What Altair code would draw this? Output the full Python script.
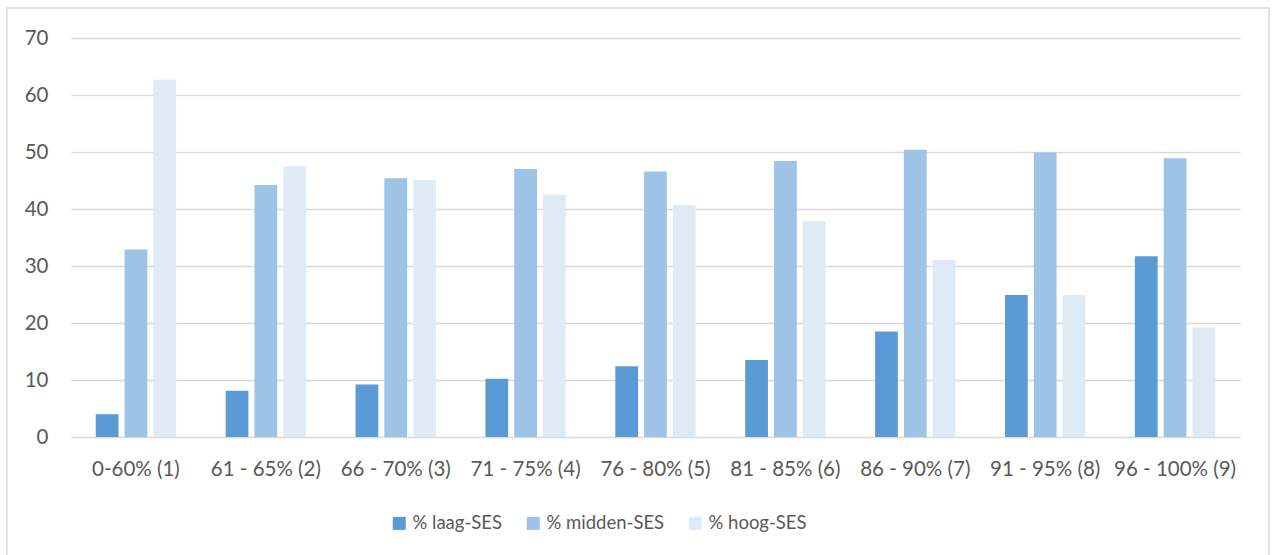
import altair as alt
import pandas as pd

categories = [
    "0-60% (1)", "61 - 65% (2)", "66 - 70% (3)", "71 - 75% (4)", "76 - 80% (5)",
    "81 - 85% (6)", "86 - 90% (7)", "91 - 95% (8)", "96 - 100% (9)",
]
series = ["% laag-SES", "% midden-SES", "% hoog-SES"]
laag = [4.0, 8.1, 9.2, 10.2, 12.4, 13.5, 18.5, 24.9, 31.7]
midden = [32.9, 44.2, 45.4, 47.0, 46.6, 48.4, 50.4, 49.9, 48.9]
hoog = [62.7, 47.5, 45.1, 42.5, 40.7, 37.9, 31.1, 24.9, 19.2]
colors = ["#5B9BD5", "#9DC3E6", "#DEEBF7"]
y_ticks = [0, 10, 20, 30, 40, 50, 60, 70]

rows = []
for name, vals in zip(series, [laag, midden, hoog]):
    for cat, v in zip(categories, vals):
        rows.append({"groep": cat, "reeks": name, "waarde": v})
df = pd.DataFrame(rows)

FONT = "Lato"
TEXT = "#595959"
GRID = "#D9D9D9"

# light grey frame around the whole chart
frame = alt.Chart(pd.DataFrame({"k": [0]})).mark_rect(
    fill=None, stroke=GRID, strokeWidth=1.5
).encode(
    x=alt.value(-64), x2=alt.value(1198), y=alt.value(-30), y2=alt.value(540)
)

bars = alt.Chart(df).mark_bar().encode(
    x=alt.X(
        "groep:N", sort=categories,
        scale=alt.Scale(paddingInner=0, paddingOuter=0),
        axis=alt.Axis(title=None, labelAngle=0, domain=False, ticks=False,
                      labelPadding=22, labelFontSize=20.5, labelColor=TEXT,
                      labelFont=FONT, grid=False),
    ),
    xOffset=alt.XOffset(
        "reeks:N", sort=series,
        scale=alt.Scale(paddingInner=0.21, paddingOuter=0.86),
    ),
    y=alt.Y(
        "waarde:Q",
        scale=alt.Scale(domain=[0, 70], nice=False),
        axis=alt.Axis(title=None, values=y_ticks, domain=False, ticks=False,
                      labelPadding=23, labelFontSize=20.5, labelColor=TEXT,
                      labelFont=FONT, gridColor=GRID, gridWidth=1.5),
    ),
    color=alt.Color(
        "reeks:N", sort=series,
        scale=alt.Scale(domain=series, range=colors),
        legend=alt.Legend(
            title=None, orient="none", direction="horizontal",
            legendX=319, legendY=476, symbolType="square", symbolSize=169,
            symbolStrokeWidth=0, labelFontSize=18.5, labelColor=TEXT,
            labelFont=FONT, labelOffset=4, columnPadding=21, padding=0,
        ),
    ),
)

chart = alt.layer(frame, bars).properties(
    width=1169, height=399,
    autosize=alt.AutoSizeParams(type="none"),
    padding={"left": 71, "top": 38, "right": 33, "bottom": 118},
    background="white",
).configure_view(stroke=None)

chart.save("out.html", embed_options={"renderer": "svg", "actions": False})
